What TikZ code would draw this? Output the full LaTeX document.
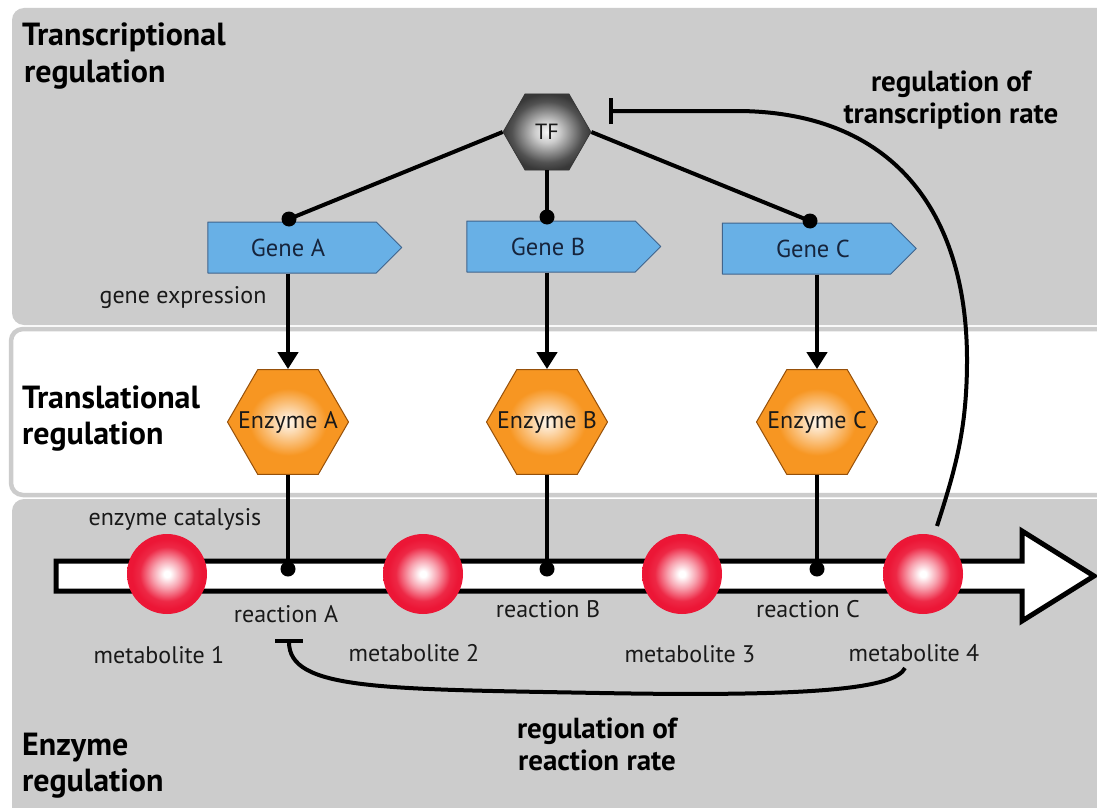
\documentclass[tikz,border=0pt]{standalone}
\usepackage{fontspec}
\setmainfont{PT Sans}
\usetikzlibrary{shapes.geometric,shapes.symbols,arrows.meta,calc}
\definecolor{panel}{RGB}{204,204,204}
\definecolor{mred}{RGB}{236,22,54}
\definecolor{orng}{RGB}{247,150,34}
\definecolor{oedge}{RGB}{150,80,10}
\definecolor{gblue}{RGB}{104,176,230}
\definecolor{gedge}{RGB}{64,100,140}
\definecolor{gtext}{RGB}{22,36,60}
\definecolor{ink}{RGB}{25,25,25}
\pgfdeclareradialshading{metab}{\pgfpointorigin}{color(0bp)=(white); color(2bp)=(white); color(9bp)=(mred!40!white); color(17bp)=(mred!92!white); color(22bp)=(mred); color(50bp)=(mred)}
\pgfdeclareradialshading{enz}{\pgfpointorigin}{color(0bp)=(orng!8!white); color(5bp)=(orng!35!white); color(16bp)=(orng); color(25bp)=(orng); color(50bp)=(orng)}
\pgfdeclareradialshading{tfsh}{\pgfpointorigin}{color(0bp)=(black!3); color(7bp)=(black!20); color(20bp)=(black!68); color(25bp)=(black!78); color(50bp)=(black!78)}
\tikzset{
  conn/.style={line width=4.5pt, draw=black},
  tfconn/.style={line width=4pt, draw=black},
  fb/.style={line width=4pt, draw=black},
  dotn/.style={circle, fill=black, minimum size=15pt, inner sep=0pt},
  gene/.style={signal, signal to=east, signal from=nowhere, draw=gedge, line width=1pt, fill=gblue, minimum width=194pt, minimum height=51pt, inner sep=0pt},
  genetxt/.style={font=\fontsize{24.5}{28}\selectfont, text=gtext, inner sep=0pt},
  enzyme/.style={regular polygon, regular polygon sides=6, minimum size=121pt, inner sep=0pt, draw=oedge, line width=1pt, shade, shading=enz},
  enztxt/.style={font=\fontsize{24}{28}\selectfont, text=ink, inner sep=0pt},
  tfnode/.style={regular polygon, regular polygon sides=6, minimum size=88pt, inner sep=0pt, draw=black!80, line width=0.6pt, shade, shading=tfsh},
  metab/.style={circle, minimum size=80pt, inner sep=0pt, shade, shading=metab},
  lbl/.style={font=\fontsize{24}{28}\selectfont, text=ink, inner sep=0pt, anchor=base},
  head/.style={font=\bfseries\fontsize{32}{36}\selectfont, text=black, inner sep=0pt, anchor=base west},
  rhead/.style={font=\bfseries\fontsize{29}{34}\selectfont, text=black, inner sep=0pt, anchor=base},
  tip/.style={-{Triangle[width=20pt,length=17pt]}}
}
\begin{document}
\begin{tikzpicture}[x=1pt,y=-1pt,line join=round]
\useasboundingbox (0,0) rectangle (1097,808);
\clip (0,0) rectangle (1097,808);
\fill[white] (0,0) rectangle (1097,808);
% panels
\fill[panel, rounded corners=12pt] (12,8) rectangle (1130,325);
\draw[panel, fill=white, line width=4.5pt, rounded corners=12pt] (11,329) rectangle (1130,495);
\fill[panel, rounded corners=12pt] (12,499) rectangle (1130,840);

% headings
\node[head] (h1a) at (22,46) {Transcriptional};
\node[head] (h1b) at (24,82) {regulation};
\node[head] (h2a) at (22,408) {Translational};
\node[head] (h2b) at (22,444) {regulation};
\node[head] (h3a) at (22,755) {Enzyme};
\node[head] (h3b) at (22,791) {regulation};
\node[rhead] (r1a) at (951,92) {regulation of};
\node[rhead] (r1b) at (951,123) {transcription rate};
\node[rhead] (r2a) at (597,738) {regulation of};
\node[rhead] (r2b) at (597,770) {reaction rate};

% pathway arrow
\draw[line width=5pt, fill=white, line join=miter] (56,561) -- (1022,561) -- (1022,531) -- (1094,576) -- (1022,621) -- (1022,591) -- (56,591) -- cycle;

% metabolites
\node[metab] (m1) at (167,574) {};
\node[metab] (m2) at (423,574) {};
\node[metab] (m3) at (682,574) {};
\node[metab] (m4) at (923,574) {};

% TF
\node[tfnode] (tf) at (547,132) {};
\node[font=\fontsize{22}{26}\selectfont, text=ink, inner sep=0pt] (tft) at (547,132) {TF};

% genes (node centre = centre of the box part)
\node[gene] (gA) at (292,247.5) {};
\node[genetxt] (gAt) at (288,248) {Gene A};
\node[gene] (gB) at (551,246.5) {};
\node[genetxt] (gBt) at (548,247) {Gene B};
\node[gene] (gC) at (806.5,248.5) {};
\node[genetxt] (gCt) at (813,249) {Gene C};

% enzymes
\node[enzyme] (eA) at (288,422) {};
\node[enztxt] (eAt) at (288,422) {Enzyme A};
\node[enzyme] (eB) at (547,422) {};
\node[enztxt] (eBt) at (547,422) {Enzyme B};
\node[enzyme] (eC) at (817,422) {};
\node[enztxt] (eCt) at (817,422) {Enzyme C};

% gene dots
\node[dotn] (dA) at (289,219) {};
\node[dotn] (dB) at (547,217) {};
\node[dotn] (dC) at (810,221) {};
% reaction dots
\node[dotn] (rA) at (288,569) {};
\node[dotn] (rB) at (547,569) {};
\node[dotn] (rC) at (817,569) {};

% TF to genes
\draw[tfconn] (tf.west) -- (dA.center);
\draw[tfconn] (tf.south) -- (dB.center);
\draw[tfconn] (tf.east) -- (dC.center);

% genes to enzymes
\draw[conn, tip] (eA.north |- gA.south) -- (eA.north);
\draw[conn, tip] (eB.north |- gB.south) -- (eB.north);
\draw[conn, tip] (eC.north |- gC.south) -- (eC.north);

% enzymes to reactions
\draw[conn] (eA.south) -- (rA.center);
\draw[conn] (eB.south) -- (rB.center);
\draw[conn] (eC.south) -- (rC.center);

% labels
\node[lbl] (ge) at (183,303) {gene expression};
\node[lbl] (ec) at (175,525) {enzyme catalysis};
\node[lbl] (xA) at (286,622) {reaction A};
\node[lbl] (xB) at (548,617) {reaction B};
\node[lbl] (xC) at (808,617) {reaction C};
\node[lbl] (l1) at (159,663) {metabolite 1};
\node[lbl] (l2) at (414,661) {metabolite 2};
\node[lbl] (l3) at (690,662) {metabolite 3};
\node[lbl] (l4) at (914,661) {metabolite 4};

% feedback curves
\coordinate (c1) at (937,526);
\coordinate (tfbar) at (609,111);
\draw[fb, -{Bar[width=26pt,line width=4pt]}] (c1) .. controls (955,470) and (967,430) .. (967,360) .. controls (967,220) and (900,113) .. (740,111) -- (tfbar);
\coordinate (c2) at (905,668);
\coordinate (rbar) at (289,639);
\draw[fb, -{Bar[width=28pt,line width=4pt]}] (c2) .. controls (895,688) and (820,697) .. (600,693) .. controls (380,689) and (289,690) .. (rbar);
\end{tikzpicture}
\end{document}
